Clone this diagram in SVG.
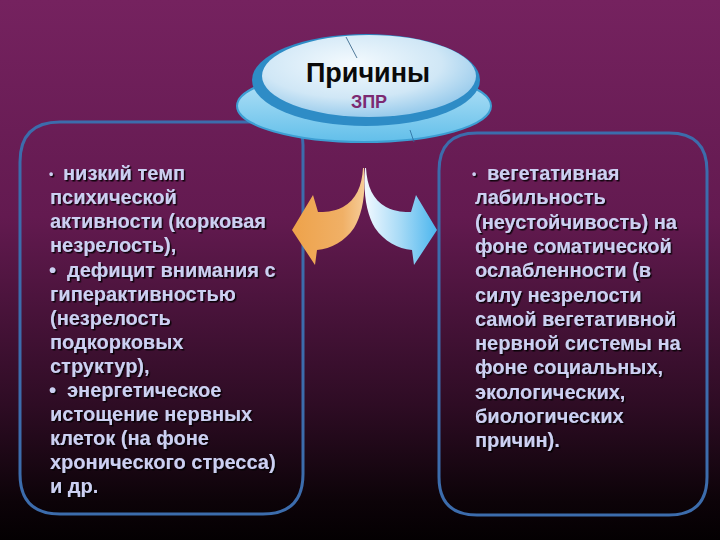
<svg xmlns="http://www.w3.org/2000/svg" width="720" height="540" viewBox="0 0 720 540">
<defs>
<linearGradient id="bg" x1="0" y1="0" x2="0" y2="1">
<stop offset="0" stop-color="#75225f"/>
<stop offset="0.4" stop-color="#631a50"/>
<stop offset="0.75" stop-color="#2e0c24"/>
<stop offset="0.93" stop-color="#0c0308"/>
<stop offset="1" stop-color="#040002"/>
</linearGradient>
<linearGradient id="base" x1="0" y1="0" x2="0" y2="1">
<stop offset="0" stop-color="#bfe6f8"/>
<stop offset="1" stop-color="#62bfea"/>
</linearGradient>
<radialGradient id="top" cx="0.42" cy="0.35" r="0.7">
<stop offset="0" stop-color="#f4fafe"/>
<stop offset="0.6" stop-color="#d0e7f6"/>
<stop offset="1" stop-color="#8ec6ea"/>
</radialGradient>
<linearGradient id="orange" x1="0" y1="0" x2="1" y2="0">
<stop offset="0" stop-color="#eea24a"/>
<stop offset="0.7" stop-color="#f0b066"/>
<stop offset="1" stop-color="#f6cc98"/>
</linearGradient>
<linearGradient id="blue" x1="0" y1="0" x2="1" y2="0">
<stop offset="0" stop-color="#f2f9ff"/>
<stop offset="0.5" stop-color="#a6daf6"/>
<stop offset="1" stop-color="#4cb6ee"/>
</linearGradient>
<filter id="sh" x="-5%" y="-5%" width="110%" height="120%">
<feDropShadow dx="1.5" dy="1.5" stdDeviation="0.6" flood-color="#000" flood-opacity="0.85"/>
</filter>
</defs>
<style>
.box{fill:none;stroke:#3c6cac;stroke-width:3}
.txt{font-family:"Liberation Sans",Arial,sans-serif;font-weight:bold;font-size:20px;fill:#ccd0f2}
.title{font-family:"Liberation Sans",Arial,sans-serif;font-weight:bold;text-anchor:middle}
</style>
<rect x="0" y="0" width="720" height="540" fill="url(#bg)"/>

<g id="left-box">
<path class="box" d="M60,122 H280 Q303,122 303,145 V474 Q303,514 263,514 H60 Q20,514 20,474 V162 Q20,122 60,122 Z"/>
<g class="txt" filter="url(#sh)">
<text x="49" y="180"><tspan font-size="12" dy="-2">•</tspan><tspan x="63" dy="2">низкий темп</tspan></text>
<text x="50" y="204">психической</text>
<text x="50" y="228">активности (корковая</text>
<text x="50" y="252">незрелость),</text>
<text x="49" y="277">•<tspan x="67">дефицит внимания с</tspan></text>
<text x="50" y="301">гиперактивностью</text>
<text x="50" y="325">(незрелость</text>
<text x="50" y="349">подкорковых</text>
<text x="50" y="373">структур),</text>
<text x="49" y="397">•<tspan x="67">энергетическое</tspan></text>
<text x="50" y="421">истощение нервных</text>
<text x="50" y="445">клеток (на фоне</text>
<text x="50" y="469">хронического стресса)</text>
<text x="50" y="493">и др.</text>
</g>
</g>

<g id="right-box">
<path class="box" d="M477,133 H669 Q707,133 707,171 V477 Q707,515 669,515 H477 Q439,515 439,477 V171 Q439,133 477,133 Z"/>
<g class="txt" filter="url(#sh)">
<text x="472" y="180"><tspan font-size="12" dy="-2">•</tspan><tspan x="487" dy="2">вегетативная</tspan></text>
<text x="475" y="204">лабильность</text>
<text x="475" y="229">(неустойчивость) на</text>
<text x="475" y="253">фоне соматической</text>
<text x="475" y="277">ослабленности (в</text>
<text x="475" y="302">силу незрелости</text>
<text x="475" y="326">самой вегетативной</text>
<text x="475" y="350">нервной системы на</text>
<text x="475" y="374">фоне социальных,</text>
<text x="475" y="399">экологических,</text>
<text x="475" y="423">биологических</text>
<text x="475" y="447">причин).</text>
</g>
</g>

<g id="title-node">
<ellipse cx="364" cy="106" rx="127" ry="36" fill="url(#base)" stroke="#3d9ed3" stroke-width="2"/>
<ellipse cx="366" cy="80" rx="114" ry="46" fill="#2e8cc6"/>
<ellipse cx="369" cy="76" rx="107" ry="41" fill="url(#top)"/>
<line x1="346" y1="37" x2="357" y2="58" stroke="#2a5a80" stroke-width="0.8"/>
<line x1="410" y1="130" x2="414" y2="142" stroke="#2a6a9a" stroke-width="0.8"/>
<text class="title" x="368" y="82" font-size="27" fill="#0a0a0a">Причины</text>
<text class="title" x="369" y="108" font-size="18" fill="#7c2a72">ЗПР</text>
</g>

<g id="connectors">
<path d="M363,168 C362,186 356,200 343,207 C333,212 324,212 318,212 L313,195 L292,230 L315,265 L317,250 C331,249 345,241 354,228 C362,215 366,195 364,168 Z" fill="url(#orange)"/>
<path d="M366,168 C367,186 373,200 386,207 C396,212 405,212 411,212 L416,195 L437,230 L414,265 L412,250 C398,249 384,241 375,228 C367,215 363,195 365,168 Z" fill="url(#blue)"/>
</g>
</svg>
